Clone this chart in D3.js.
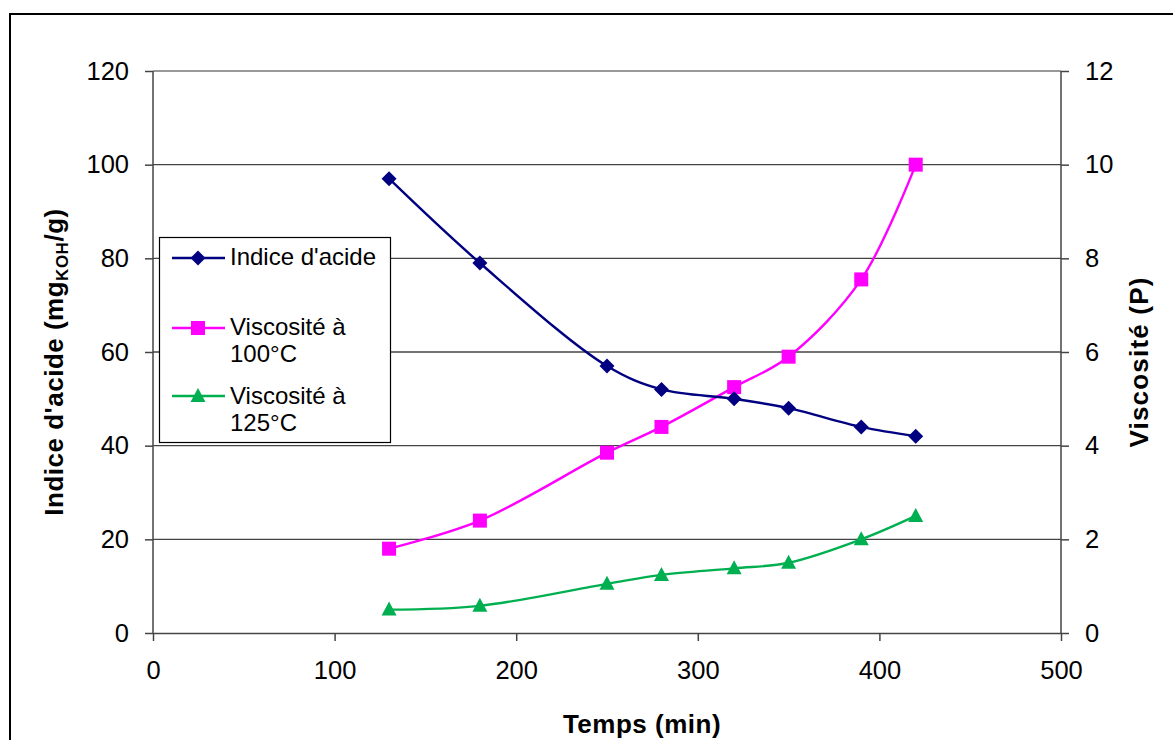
<!DOCTYPE html>
<html>
<head>
<meta charset="utf-8">
<script src="https://cdn.jsdelivr.net/npm/d3@7"></script>
<style>
  html, body { margin: 0; padding: 0; background: #fff; }
  svg { display: block; font-family: "Liberation Sans", Arial, sans-serif; }
</style>
</head>
<body>
<svg id="chart" width="1173" height="740"></svg>
<script>
// ---- data ----
const temps = [130, 180, 250, 280, 320, 350, 390, 420];
const indiceAcide = [97, 79, 57, 52, 50, 48, 44, 42];
const visco100 = [1.8, 2.4, 3.85, 4.4, 5.25, 5.9, 7.55, 10];
const visco125 = [0.5, 0.58, 1.05, 1.24, 1.38, 1.5, 2.0, 2.5];
const xTicks = [0, 100, 200, 300, 400, 500];
const yLeftTicks = [0, 20, 40, 60, 80, 100, 120];
const yRightTicks = [0, 2, 4, 6, 8, 10, 12];
const seriesNames = ["Indice d'acide", "Viscosité à|100°C", "Viscosité à|125°C"];

const svg = d3.select("#chart");
const L = 153, R = 1061, T = 71, B = 633;

const x = d3.scaleLinear().domain([0, 500]).range([L, R]);
const yL = d3.scaleLinear().domain([0, 120]).range([B, T]);
const yR = d3.scaleLinear().domain([0, 12]).range([B, T]);

// outer frame
svg.append("rect").attr("x", 10).attr("y", 14).attr("width", 1200).attr("height", 800)
  .attr("fill", "#fff").attr("stroke", "#000").attr("stroke-width", 2);

// gridlines
svg.append("g").selectAll("line").data(yLeftTicks.filter(d => d > 0 && d < 120)).join("line")
  .attr("x1", L).attr("x2", R).attr("y1", d => yL(d)).attr("y2", d => yL(d))
  .attr("stroke", "#444").attr("stroke-width", 1.3);
svg.append("line").attr("x1", L).attr("x2", R).attr("y1", yL(120)).attr("y2", yL(120))
  .attr("stroke", "#999").attr("stroke-width", 2);

// axes
function styleAxis(g) {
  g.select(".domain").attr("stroke", "#444").attr("stroke-width", 1.5);
  g.selectAll(".tick line").attr("stroke", "#444").attr("stroke-width", 1.5);
  g.selectAll(".tick text").attr("fill", "#000").attr("font-size", 25.5)
    .attr("font-family", "'Liberation Sans', Arial, sans-serif");
}
const gx = svg.append("g").attr("transform", `translate(0,${B})`)
  .call(d3.axisBottom(x).tickValues(xTicks).tickSize(8).tickSizeOuter(0).tickPadding(20).tickFormat(d3.format("d")));
styleAxis(gx);
const gyl = svg.append("g").attr("transform", `translate(${L},0)`)
  .call(d3.axisLeft(yL).tickValues(yLeftTicks).tickSize(8).tickSizeOuter(0).tickPadding(16).tickFormat(d3.format("d")));
styleAxis(gyl);
const gyr = svg.append("g").attr("transform", `translate(${R},0)`)
  .call(d3.axisRight(yR).tickValues(yRightTicks).tickSize(8).tickSizeOuter(0).tickPadding(16).tickFormat(d3.format("d")));
styleAxis(gyr);
gyl.select(".domain").attr("d", `M0,${B}V${T}`);
gyr.select(".domain").attr("d", `M0,${B}V${T}`);

// series
const colors = ["#000080", "#FF00FF", "#00B050"];
const lineL = d3.line().x(d => x(d[0])).y(d => yL(d[1])).curve(d3.curveCatmullRom.alpha(0.5));
const lineR = d3.line().x(d => x(d[0])).y(d => yR(d[1])).curve(d3.curveCatmullRom.alpha(0.5));

const sIndice = temps.map((t, i) => [t, indiceAcide[i]]);
const s100 = temps.map((t, i) => [t, visco100[i]]);
const s125 = temps.map((t, i) => [t, visco125[i]]);

function diamond(g, cx, cy, c) {
  g.append("path").attr("d", `M${cx},${cy-7.5}L${cx+7.5},${cy}L${cx},${cy+7.5}L${cx-7.5},${cy}Z`).attr("fill", c);
}
function square(g, cx, cy, c) {
  g.append("rect").attr("x", cx - 7).attr("y", cy - 7).attr("width", 14).attr("height", 14).attr("fill", c);
}
function triangle(g, cx, cy, c) {
  g.append("path").attr("d", `M${cx},${cy-8}L${cx+7.5},${cy+6}L${cx-7.5},${cy+6}Z`).attr("fill", c);
}

const gS = svg.append("g");
gS.append("path").datum(s125).attr("d", lineR).attr("fill", "none").attr("stroke", colors[2]).attr("stroke-width", 2.4);
s125.forEach(d => triangle(gS, x(d[0]), yR(d[1]), colors[2]));
gS.append("path").datum(s100).attr("d", lineR).attr("fill", "none").attr("stroke", colors[1]).attr("stroke-width", 2.4);
s100.forEach(d => square(gS, x(d[0]), yR(d[1]), colors[1]));
gS.append("path").datum(sIndice).attr("d", lineL).attr("fill", "none").attr("stroke", colors[0]).attr("stroke-width", 2.4);
sIndice.forEach(d => diamond(gS, x(d[0]), yL(d[1]), colors[0]));

// legend
const lg = svg.append("g");
lg.append("rect").attr("x", 159.5).attr("y", 237.5).attr("width", 231).attr("height", 205)
  .attr("fill", "#fff").attr("stroke", "#000").attr("stroke-width", 1.2);
const legRows = [
  { y: 258, lines: [265], marker: diamond },
  { y: 328, lines: [335, 362], marker: square },
  { y: 396, lines: [404, 431], marker: triangle }
];
legRows.forEach((r, i) => {
  lg.append("line").attr("x1", 172).attr("x2", 225).attr("y1", r.y).attr("y2", r.y)
    .attr("stroke", colors[i]).attr("stroke-width", 2.4);
  r.marker(lg, 198, r.y, colors[i]);
  const parts = seriesNames[i].split("|");
  parts.forEach((p, j) => {
    lg.append("text").attr("x", 230).attr("y", r.lines[j]).attr("font-size", 24)
      .attr("fill", "#000").text(p);
  });
});

// axis titles
svg.append("text").attr("x", 642).attr("y", 733).attr("text-anchor", "middle")
  .attr("font-size", 26).attr("font-weight", "bold").attr("letter-spacing", 0.5).text("Temps (min)");

const tl = svg.append("text").attr("transform", "translate(63,362) rotate(-90)").attr("text-anchor", "middle")
  .attr("font-size", 26).attr("font-weight", "bold").attr("letter-spacing", 0.5);
tl.append("tspan").text("Indice d'acide (mg");
tl.append("tspan").attr("font-size", 17).attr("dy", 5).text("KOH");
tl.append("tspan").attr("dy", -5).text("/g)");

svg.append("text").attr("transform", "translate(1148,362) rotate(-90)").attr("text-anchor", "middle")
  .attr("font-size", 26).attr("font-weight", "bold").attr("letter-spacing", 1.2).text("Viscosité (P)");
</script>
</body>
</html>
